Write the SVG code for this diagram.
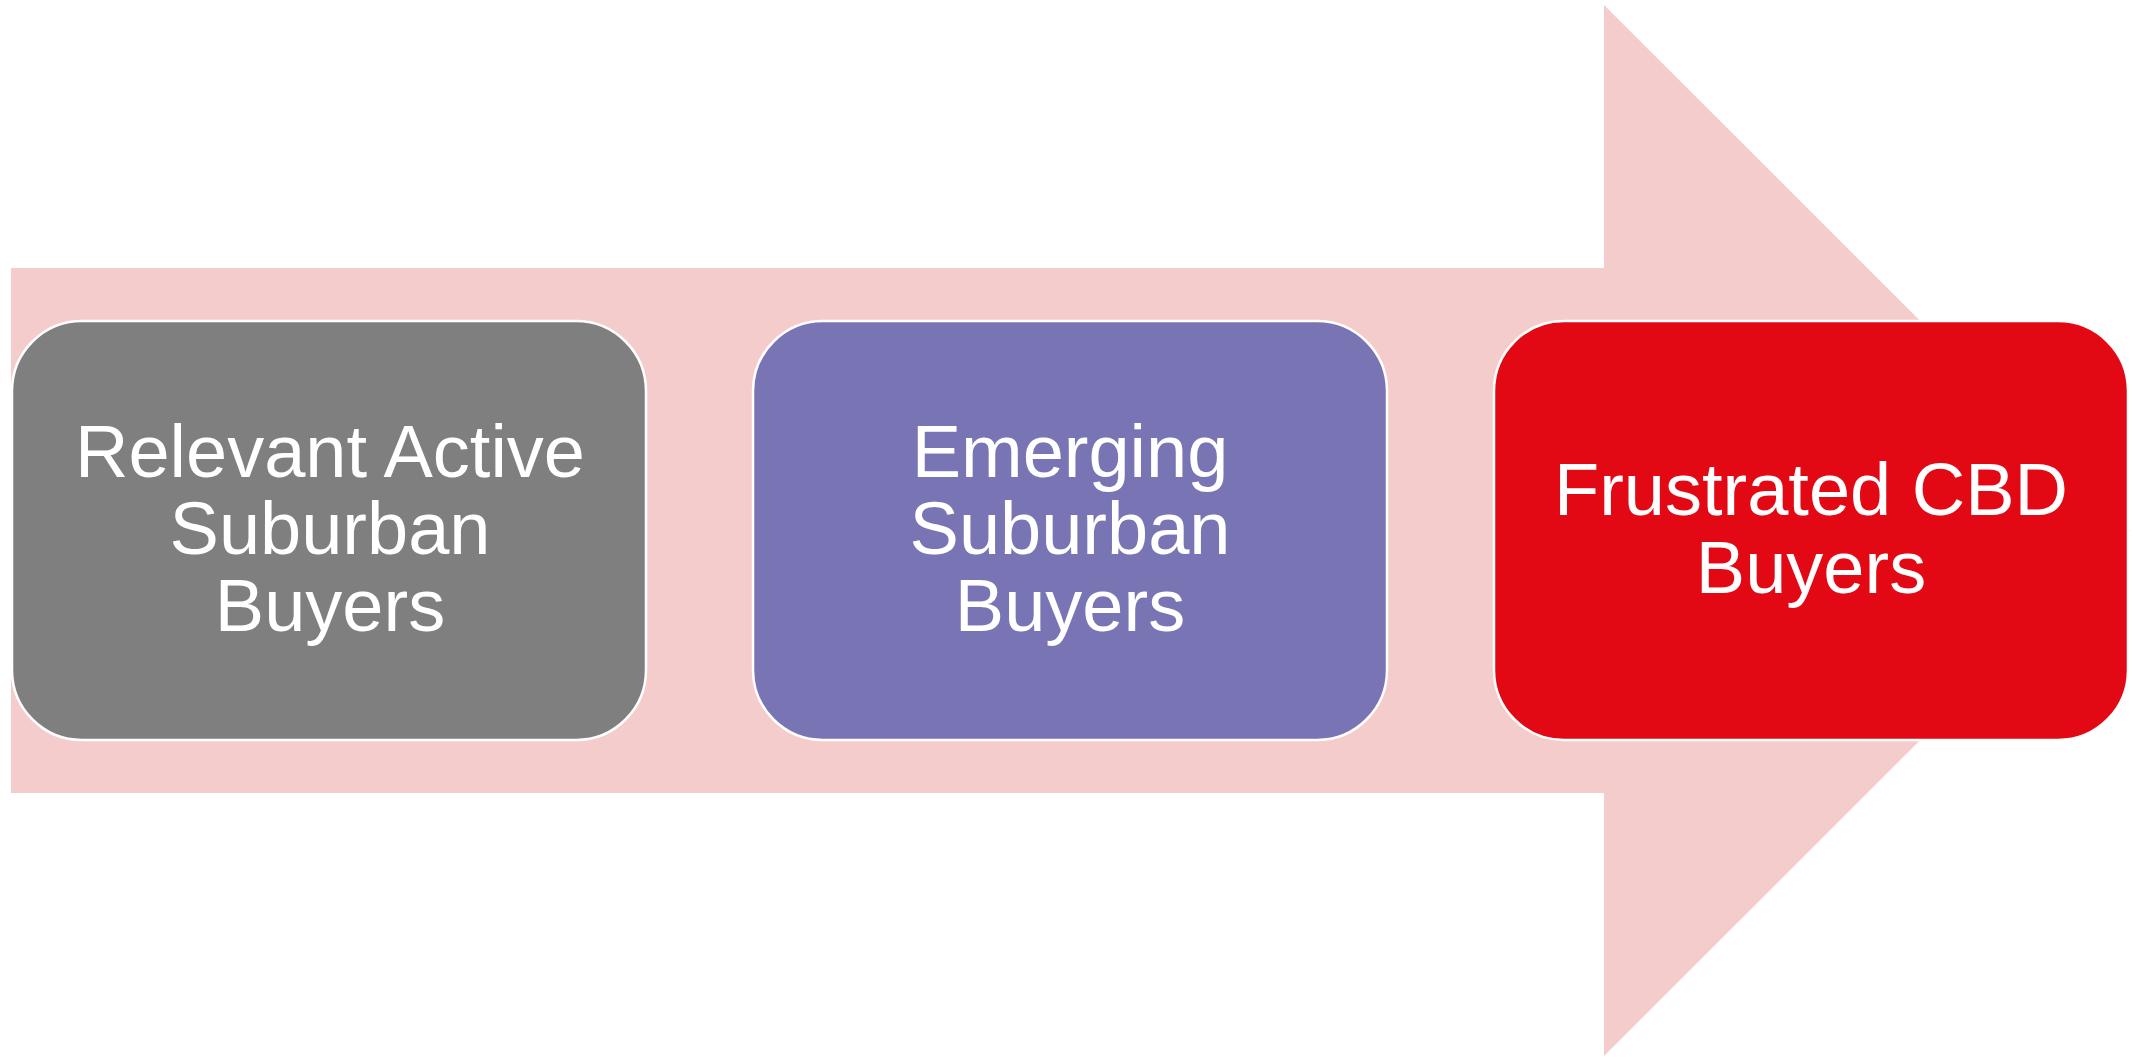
<svg xmlns="http://www.w3.org/2000/svg" width="2133" height="1057" viewBox="0 0 2133 1057">
  <style>
    .stage { stroke: #ffffff; stroke-width: 2.5; }
    .label { font-family: "Liberation Sans", Arial, sans-serif; font-size: 74px; fill: #ffffff; text-anchor: middle; }
  </style>
  <rect width="2133" height="1057" fill="#ffffff"/>

  <!-- Background process arrow -->
  <g id="connectors">
    <polygon points="11,268 1604,268 1604,5 2130,530.5 1604,1056 1604,793 11,793" fill="#f4cccc"/>
  </g>

  <g id="node-relevant-active">
    <rect class="stage" x="12" y="321" width="634" height="419" rx="70" ry="70" fill="#7f7f7f"/>
    <text class="label" x="330" y="477">Relevant Active</text>
    <text class="label" x="330" y="554">Suburban</text>
    <text class="label" x="330" y="631">Buyers</text>
  </g>

  <g id="node-emerging">
    <rect class="stage" x="753" y="321" width="634" height="419" rx="70" ry="70" fill="#7975b5"/>
    <text class="label" x="1070" y="477">Emerging</text>
    <text class="label" x="1070" y="554">Suburban</text>
    <text class="label" x="1070" y="631">Buyers</text>
  </g>

  <g id="node-frustrated-cbd">
    <rect class="stage" x="1494" y="321" width="634" height="419" rx="70" ry="70" fill="#e20814"/>
    <text class="label" x="1811" y="515">Frustrated CBD</text>
    <text class="label" x="1811" y="593">Buyers</text>
  </g>
</svg>
